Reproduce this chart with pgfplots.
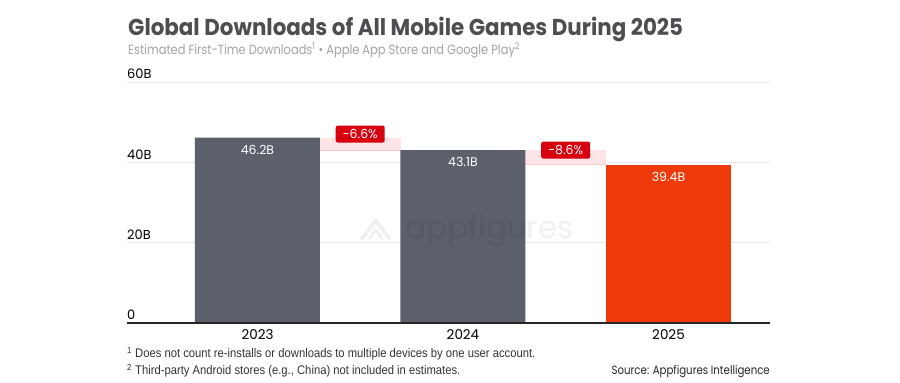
\documentclass[border=0pt]{standalone}
\usepackage{pgfplots}
\pgfplotsset{compat=1.18}
\usepackage{fontspec}
\setmainfont{Poppins}
\newfontfamily\titlefont{Poppins}[FakeStretch=0.93]
\newfontfamily\subfont{Poppins}[FakeStretch=0.86]
\newfontfamily\srcfont{Poppins}[FakeStretch=0.85]
\newfontfamily\footfont{Liberation Sans}[FakeStretch=0.9]
\definecolor{bargray}{HTML}{5B606B}
\definecolor{barred}{HTML}{EF3A0C}
\definecolor{boxred}{HTML}{D7000F}
\definecolor{bandpink}{HTML}{FDE4E6}
\definecolor{bandline}{HTML}{F9C6CA}
\definecolor{titlegray}{HTML}{4D4D52}
\definecolor{subgray}{HTML}{A3A3A8}
\definecolor{gridgray}{HTML}{E8E8EC}
\begin{document}
\begin{tikzpicture}
\useasboundingbox[fill=white] (0pt,0pt) rectangle (900pt,383pt);
\node[anchor=base west, inner sep=0pt, text=titlegray] at (128pt,347pt)
  {\titlefont\fontsize{23}{23}\selectfont\bfseries Global Downloads of All Mobile Games During 2025};
\node[anchor=base west, inner sep=0pt, text=subgray] at (128pt,328pt)
  {\subfont\fontsize{13.3}{13.3}\selectfont Estimated First-Time Downloads\textsuperscript{1} • Apple App Store and Google Play\textsuperscript{2}};
\begin{axis}[
  at={(127pt,59.8pt)}, anchor=south west,
  scale only axis, width=643pt, height=241pt,
  xmin=-0.635, xmax=2.494, ymin=0, ymax=60,
  axis line style={draw=none},
  clip=false,
  xtick={0,1,2}, xticklabels={2023,2024,2025},
  ytick={0,20,40,60}, yticklabels={0,20B,40B,60B},
  major tick length=0pt,
  ymajorgrids, grid style={gridgray, line width=0.8pt},
  yticklabel style={anchor=south west, inner sep=0pt, yshift=3.3pt, font=\fontsize{13}{13}\selectfont, text=black},
  xticklabel style={anchor=north, inner sep=0pt, yshift=-6.5pt, font=\fontsize{13.5}{13.5}\selectfont, text=black},
  point meta=explicit symbolic,
  nodes near coords,
  nodes near coords style={anchor=north, inner sep=0pt, yshift=-7pt, text=white, font=\fontsize{12.5}{12.5}\selectfont},
]
\fill[bandpink] (axis cs:0.304,46.2) rectangle (axis cs:0.696,43.1);
\draw[bandline, line width=1pt] (axis cs:0.304,43.1) -- (axis cs:0.696,43.1);
\fill[bandpink] (axis cs:1.304,43.1) rectangle (axis cs:1.696,39.4);
\draw[bandline, line width=1pt] (axis cs:1.304,39.4) -- (axis cs:1.696,39.4);
\addplot[ybar, bar width=125pt, bar shift=0pt, fill=bargray, draw=none]
  coordinates {(0,46.2)[46.2B] (1,43.1)[43.1B]};
\addplot[ybar, bar width=125pt, bar shift=0pt, fill=barred, draw=none]
  coordinates {(2,39.4)[39.4B]};
\node[fill=boxred, text=white, rounded corners=2pt, minimum width=49pt, minimum height=17pt, inner sep=0pt, font=\fontsize{12.5}{12.5}\selectfont] at (axis cs:0.5,47.08) {-6.6\%};
\node[fill=boxred, text=white, rounded corners=2pt, minimum width=49pt, minimum height=17pt, inner sep=0pt, font=\fontsize{12.5}{12.5}\selectfont] at (axis cs:1.5,43.1) {-8.6\%};
\node[text=black, opacity=0.06, font=\fontsize{31}{31}\selectfont] at (axis cs:1.13,22.9) {appfigures};
\draw[black, opacity=0.06, line width=4pt, line join=round, line cap=round] (axis cs:0.51,21.2) -- (axis cs:0.575,25.6) -- (axis cs:0.64,21.2);
\draw[black, opacity=0.06, line width=3pt, line join=round, line cap=round] (axis cs:0.545,21.2) -- (axis cs:0.575,23.2) -- (axis cs:0.605,21.2);
\draw[black!85, line width=1.6pt] (axis cs:-0.635,0) -- (axis cs:2.494,0);
\end{axis}
\node[anchor=base west, inner sep=0pt, text=black!80] at (127pt,25.5pt)
  {\footfont\fontsize{12.5}{12.5}\selectfont \textsuperscript{1} Does not count re-installs or downloads to multiple devices by one user account.};
\node[anchor=base west, inner sep=0pt, text=black!80] at (127pt,8.5pt)
  {\footfont\fontsize{12.5}{12.5}\selectfont \textsuperscript{2} Third-party Android stores (e.g., China) not included in estimates.};
\node[anchor=base east, inner sep=0pt, text=black!85] at (770pt,8.5pt)
  {\srcfont\fontsize{12}{12}\selectfont Source: Appfigures Intelligence};
\end{tikzpicture}
\end{document}
